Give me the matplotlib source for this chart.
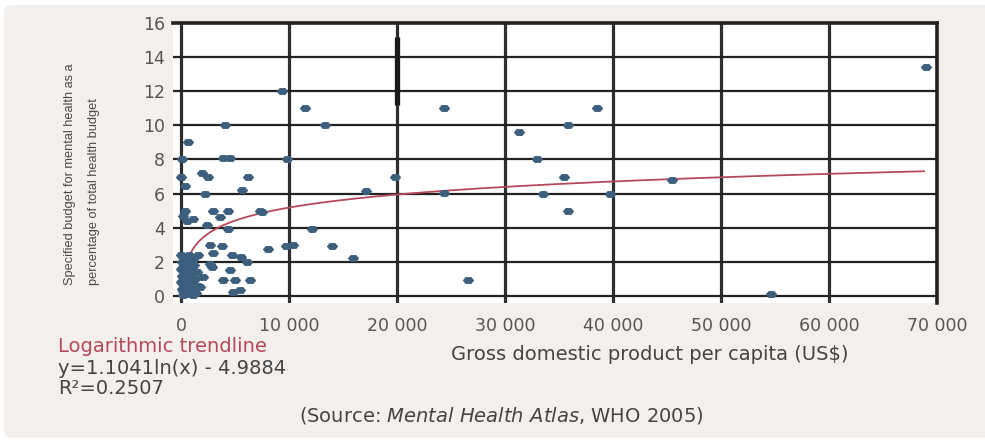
import matplotlib
matplotlib.use("Agg")
import matplotlib.pyplot as plt
from matplotlib.patches import FancyBboxPatch
import numpy as np

# ---------------- data ----------------
gdp = [
    # mid / right part
    9400, 11500, 13300, 9800, 19800, 17100, 12100, 9700, 10400, 14000, 15900,
    24400, 24400, 26600, 31300, 33000, 35500, 35800, 38500, 33500, 35800,
    39700, 45500, 69000, 54600,
    # left cluster
    650, 100, 3900, 4500, 4100, 0, 1950, 2500, 6200, 370, 5650, 2200,
    370, 3000, 4350, 7300, 7500, 1100, 3600, 200, 2400, 4350, 550,
    2700, 3800, 8050, 3000, 1600, 5600, 6100, 2900, 4500, 850, 2050,
    3900, 5000, 6400, 4800, 2700, 5500, 4700,
    # dense blob near the origin
    0, 700, 300, 1200, 100, 900, 500, 0, 1000, 400, 1500, 100, 800,
    500, 1300, 0, 900, 400, 1600, 100, 1000, 600, 1400, 200, 1100, 1800,
    300, 1200, 700, 300, 1200, 700, 200,
]
budget = [
    12.0, 11.0, 10.0, 8.0, 7.0, 6.15, 3.9, 2.95, 3.0, 2.95, 2.25,
    11.0, 6.05, 0.95, 9.6, 8.0, 7.0, 10.0, 11.0, 6.0, 5.0,
    6.0, 6.8, 13.4, 0.1,
    9.0, 8.0, 8.1, 8.1, 10.0, 7.0, 7.2, 7.0, 7.0, 6.45, 6.2, 6.0,
    5.0, 5.0, 5.0, 5.0, 4.9, 4.5, 4.6, 4.7, 4.15, 3.9, 4.4,
    3.0, 2.9, 2.75, 2.5, 2.4, 2.3, 2.0, 1.7, 1.5, 1.5, 1.1,
    0.95, 0.95, 0.95, 0.25, 1.9, 0.35, 2.4,
    2.4, 2.4, 2.2, 2.2, 2.0, 2.0, 1.8, 1.6, 1.6, 1.4, 1.4, 1.2, 1.2,
    1.0, 1.0, 0.8, 0.8, 0.6, 0.6, 0.4, 0.4, 0.2, 0.2, 0.05, 0.05, 0.5,
    1.7, 1.8, 1.3, 0.9, 0.6, 0.1, 0.3,
]

# logarithmic trendline y = a*ln(x) + b
trend_a = 1.1041
trend_b = -4.9884
trend_start = 350
trend_end = 68800

# dark vertical bar drawn on the 20 000 gridline
bar_x = 20000
bar_y = (11.2, 15.2)

xticks = [0, 10000, 20000, 30000, 40000, 50000, 60000, 70000]
xticklabels = ["0", "10 000", "20 000", "30 000", "40 000", "50 000", "60 000", "70 000"]
yticks = [0, 2, 4, 6, 8, 10, 12, 14, 16]
yticklabels = [str(v) for v in yticks]

# ---------------- figure ----------------
W, H = 985, 441
fig = plt.figure(figsize=(W / 100, H / 100), dpi=100)
fig.patch.set_facecolor("white")
panel = FancyBboxPatch((4 / W, 3 / H), 1.2, (H - 8) / H,
                       boxstyle="round,pad=0,rounding_size=0.012",
                       transform=fig.transFigure, facecolor="#f3efec",
                       edgecolor="none", zorder=-10)
fig.patches.append(panel)

ax = fig.add_axes([173.4 / W, (H - 302.8) / H, (937 - 173.4) / W, (302.8 - 23) / H])
ax.set_facecolor("white")

marker = [(-1, 0), (-0.5, 0.6), (0.5, 0.6), (1, 0), (0.5, -0.6), (-0.5, -0.6)]
ax.scatter(gdp, budget, s=68, marker=marker, color="#3c5f7e", linewidths=0, zorder=4)

xs = np.linspace(trend_start, trend_end, 500)
ax.plot(xs, trend_a * np.log(xs) + trend_b, color="#b5495a", lw=1.3, zorder=3)

ax.plot([bar_x, bar_x], bar_y, color="#1a1a1a", lw=3.8, solid_capstyle="butt", zorder=3)

ax.set_xlim(-700, 70000)
ax.set_ylim(-0.4, 16)
ax.set_xticks(xticks)
ax.set_xticklabels(xticklabels)
ax.set_yticks(yticks)
ax.set_yticklabels(yticklabels)
ax.set_axisbelow(True)
ax.xaxis.grid(True, color="#2e2e2e", lw=2.3)
ax.yaxis.grid(True, color="#222222", lw=1.6)
ax.tick_params(axis="both", length=0, labelsize=12.5, labelcolor="#555555")
ax.tick_params(axis="y", pad=6)
ax.tick_params(axis="x", pad=10)
for s in ["left", "bottom"]:
    ax.spines[s].set_visible(False)
for s in ["top", "right"]:
    ax.spines[s].set_color("#222222")
    ax.spines[s].set_linewidth(2.6)

fig.text(82 / W, 1 - 174 / H,
         "Specified budget for mental health as a\npercentage of total health budget",
         rotation=90, ha="center", va="center", multialignment="left",
         family=["Liberation Sans", "DejaVu Sans"], fontsize=9.2,
         color="#4a4a4a", linespacing=2.3)

fig.text(58 / W, 1 - 347 / H, "Logarithmic trendline", ha="left", va="center",
         fontsize=14, color="#b5495a")
fig.text(58 / W, 1 - 368 / H, "y=1.1041ln(x) - 4.9884", ha="left", va="center",
         fontsize=14, color="#444444")
fig.text(58 / W, 1 - 389 / H, "R²=0.2507", ha="left", va="center",
         fontsize=14, color="#444444")
fig.text(650 / W, 1 - 355 / H, "Gross domestic product per capita (US$)",
         ha="center", va="center", fontsize=14, color="#444444")
fig.text(501 / W, 1 - 415 / H,
         r"(Source: $\it{Mental\ Health\ Atlas}$, WHO 2005)",
         ha="center", va="center", fontsize=14, color="#444444")

fig.savefig("out.png", dpi=100, facecolor=fig.get_facecolor())
